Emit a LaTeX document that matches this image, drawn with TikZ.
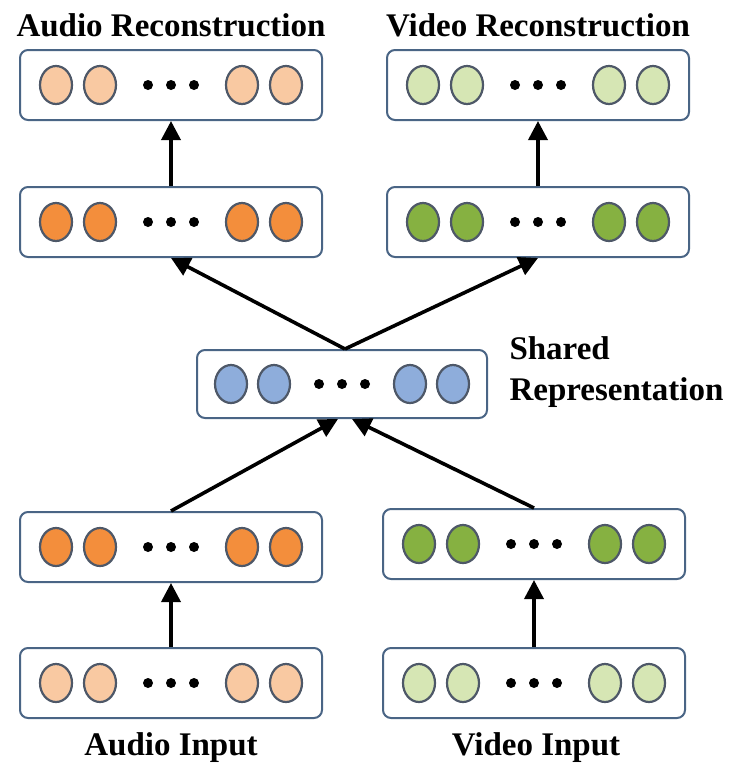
\documentclass[tikz,border=0pt]{standalone}
\usepackage{fontspec}
\setmainfont{Liberation Serif}
\usetikzlibrary{arrows.meta}
\definecolor{lorange}{HTML}{F9C9A2}
\definecolor{dorange}{HTML}{F38E3C}
\definecolor{lgreen}{HTML}{D6E6B4}
\definecolor{dgreen}{HTML}{86B141}
\definecolor{sblue}{HTML}{8EADDB}
\definecolor{rim}{HTML}{4E5868}
\definecolor{boxrim}{HTML}{4A6585}
\tikzset{
  layer/.style={draw=boxrim, line width=2pt, rounded corners=8pt, fill=white,
                minimum width=302pt, minimum height=70pt, inner sep=0pt},
  unit/.style={ellipse, draw=rim, line width=2.2pt, inner sep=0pt},
  dotmark/.style={circle, fill=black, minimum size=10pt, inner sep=0pt},
  flow/.style={line width=3.6pt, -{Triangle[length=19pt, width=19pt]}},
  lbl/.style={font=\fontsize{33}{36}\selectfont\bfseries}
}
\makeatletter
\pgfdeclareshape{ellipse}{\inheritsavedanchors[from=circle]\inheritanchorborder[from=circle]
  \inheritanchor[from=circle]{center}\inheritanchor[from=circle]{north}\inheritanchor[from=circle]{south}
  \backgroundpath{\pgfpathellipse{\centerpoint}{\pgfqpoint{16pt}{0pt}}{\pgfqpoint{0pt}{19pt}}}}
\makeatother
% a layer of units: #1 name, #2 centre, #3 fill colour
\newcommand{\unitrow}[3]{%
  \node[layer] (#1) at (#2) {};
  \foreach \dx in {-115,-71,71,115} \node[unit, fill=#3] at ([xshift=\dx pt]#1.center) {};
  \foreach \dx in {-23,0,23} \node[dotmark] at ([xshift=\dx pt]#1.center) {};
}
\begin{document}
\begin{tikzpicture}[x=1pt,y=-1pt]
\useasboundingbox (0,0) rectangle (738,769);
\unitrow{arec}{171,85}{lorange}
\unitrow{vrec}{538,85}{lgreen}
\unitrow{ahid}{171,222}{dorange}
\unitrow{vhid}{538,222}{dgreen}
\node[layer, minimum width=290pt, minimum height=68pt] (shared) at (342,384) {};
\foreach \dx in {-111,-68,68,111} \node[unit, fill=sblue] at ([xshift=\dx pt]shared.center) {};
\foreach \dx in {-23,0,23} \node[dotmark] at ([xshift=\dx pt]shared.center) {};
\unitrow{alow}{171,547}{dorange}
\unitrow{vlow}{534,544}{dgreen}
\unitrow{ain}{171,683}{lorange}
\unitrow{vin}{534,683}{lgreen}

\node[lbl] (tA) at (171,25) {Audio Reconstruction};
\node[lbl] (tV) at (538,25) {Video Reconstruction};
\node[lbl] (tAi) at (171,748) {Audio Input};
\node[lbl] (tVi) at (536,748) {Video Input};
\node[lbl, anchor=west, align=left, font=\fontsize{33}{41}\selectfont\bfseries] (tS) at (506,372) {Shared\\Representation};

\coordinate (stop) at ([xshift=3pt]shared.north);
\draw[flow] (ain.north) -- (alow.south);
\draw[flow] (vin.north) -- (vlow.south);
\draw[flow] (alow.north) -- ([xshift=-4pt]shared.south);
\draw[flow] (vlow.north) -- ([xshift=10pt]shared.south);
\draw[flow] (stop) -- (ahid.south);
\draw[flow] (stop) -- (vhid.south);
\draw[flow] (ahid.north) -- (arec.south);
\draw[flow] (vhid.north) -- (vrec.south);
\end{tikzpicture}
\end{document}
